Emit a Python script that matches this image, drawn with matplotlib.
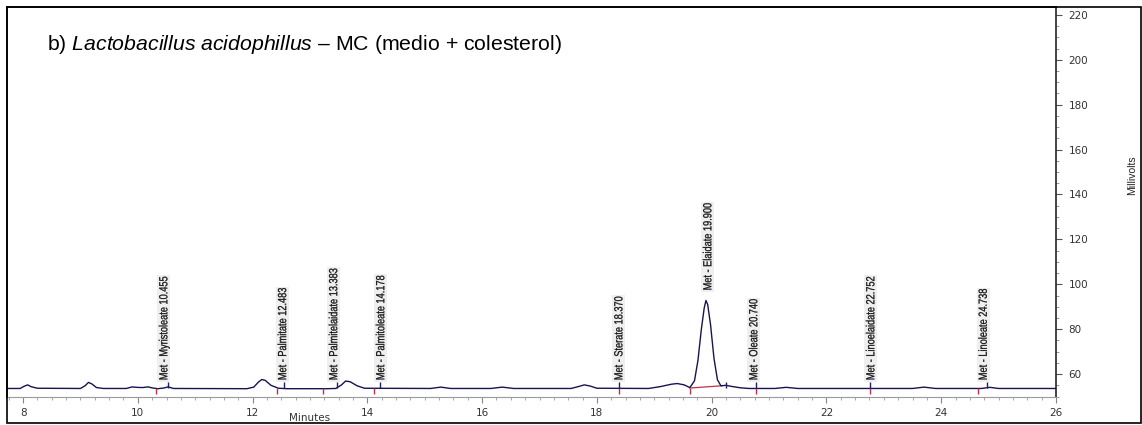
import numpy as np
import matplotlib
matplotlib.use("Agg")
import matplotlib.pyplot as plt
from matplotlib.patches import Rectangle, PathPatch
from matplotlib.ticker import MultipleLocator
from matplotlib.textpath import TextPath
from matplotlib.font_manager import FontProperties
from matplotlib.transforms import Affine2D

plt.rcParams['mathtext.fontset'] = 'custom'
plt.rcParams['mathtext.rm'] = 'Liberation Sans'
plt.rcParams['mathtext.it'] = 'Liberation Sans:italic'

# chromatogram trace (minutes, millivolts)
t = [7.72, 7.95, 8.02, 8.08, 8.14, 8.25, 9.00, 9.08, 9.14, 9.20, 9.28, 9.40,
     9.80, 9.90, 9.98, 10.08, 10.18, 10.26, 10.35, 10.45, 10.53, 10.62,
     11.90, 12.02, 12.10, 12.16, 12.22, 12.32, 12.45, 12.60,
     13.30, 13.45, 13.55, 13.62, 13.70, 13.82, 13.95,
     15.10, 15.28, 15.45, 16.15, 16.35, 16.55,
     17.55, 17.70, 17.78, 17.88, 18.00,
     18.90, 19.10, 19.30, 19.40, 19.52, 19.62, 19.70, 19.76, 19.82, 19.87,
     19.90, 19.93, 19.98, 20.04, 20.10, 20.16, 20.25, 20.35, 20.50, 20.65,
     21.10, 21.30, 21.50, 23.50, 23.70, 23.90, 24.70, 24.85, 25.00, 26.00]
mv = [53.6, 53.6, 54.6, 55.2, 54.4, 53.7, 53.6, 54.8, 56.3, 55.6, 54.0, 53.6,
      53.6, 54.3, 54.1, 54.0, 54.3, 53.8, 53.5, 53.8, 54.3, 53.6,
      53.5, 54.2, 56.4, 57.6, 57.2, 55.0, 53.7, 53.5,
      53.5, 53.6, 55.2, 56.9, 56.6, 54.8, 53.7,
      53.6, 54.2, 53.6, 53.6, 54.2, 53.6,
      53.6, 54.6, 55.2, 54.7, 53.7,
      53.6, 54.4, 55.5, 55.8, 55.2, 54.0, 57.0, 66.0, 80.0, 89.5,
      92.8, 91.0, 82.0, 67.0, 57.5, 54.8, 55.0, 54.5, 53.9, 53.6,
      53.6, 54.1, 53.6, 53.6, 54.2, 53.6, 53.6, 54.1, 53.6, 53.6]

# peak labels
names = ["Met - Myristoleate 10.455", "Met - Palmitate 12.483",
         "Met - Palmitelaidate 13.383", "Met - Palmitoleate 14.178",
         "Met - Sterate 18.370", "Met - Elaidate 19.900",
         "Met - Oleate 20.740", "Met - Linoelaidate 22.752",
         "Met - Linoleate 24.738"]
label_x = [10.44, 12.51, 13.40, 14.22, 18.37, 19.92, 20.72, 22.76, 24.72]
label_y = [57.3, 57.3, 57.3, 57.3, 57.3, 97.3, 57.3, 57.3, 57.3]
rt_mark = [10.53, 12.55, 13.47, 14.22, 18.38, 20.25, 20.77, 22.76, 24.79]
start_mark = [10.31, 12.42, 13.22, 14.12, 18.38, 19.62, 20.77, 22.76, 24.64]

fig = plt.figure(figsize=(11.42, 4.25), dpi=100)
ax = fig.add_axes([7 / 1142, 1 - 397 / 425, (1056 - 7) / 1142, 390 / 425])

ax.plot(t, mv, color='#15154f', lw=1.0, zorder=3)

# peak start (red) and retention time (blue) marks
ax.vlines(start_mark, 51.0, 53.6, color='#c0304a', lw=1.0, zorder=4)
ax.vlines(rt_mark, 53.6, 56.4, color='#1c1c70', lw=1.0, zorder=4)
# integration baseline under the main peak
ax.plot([19.62, 20.18], [53.8, 54.8], color='#c0304a', lw=0.9, zorder=2)

ax.set_xlim(7.72, 26)
ax.set_ylim(49.8, 223.5)

# narrow rotated labels (condensed Liberation Sans glyphs)
fp = FontProperties(family='Liberation Sans')
for name, x, y in zip(names, label_x, label_y):
    tp = TextPath((0, 0), name, size=1, prop=fp)
    length = tp.get_extents().x1 * 9.2
    px, py = ax.transData.transform((x, y))
    tr = Affine2D().translate(0, -0.36).scale(9.2, 11.8).rotate_deg(90).translate(px, py)
    ax.add_artist(Rectangle((px - 6, py - 1.5), 13, length + 3,
                            transform=Affine2D(), facecolor='#efefef',
                            edgecolor='none', zorder=1, clip_on=False))
    ax.add_artist(PathPatch(tp, transform=tr, facecolor='#111111',
                            edgecolor='#111111', lw=0.2, zorder=5, clip_on=False))

ax.xaxis.set_major_locator(MultipleLocator(2))
ax.xaxis.set_minor_locator(MultipleLocator(0.25))
ax.yaxis.set_minor_locator(MultipleLocator(5))
ax.set_yticks(np.arange(60, 221, 20))
ax.yaxis.tick_right()
ax.tick_params(axis='x', which='major', direction='out', length=4, width=0.8,
               color='#888888', labelsize=7.5, labelcolor='#333333', pad=4)
ax.tick_params(axis='x', which='minor', direction='out', length=2, width=0.6,
               color='#999999')
ax.tick_params(axis='y', which='major', direction='out', length=4, width=0.8,
               color='#555555', labelsize=7.5, labelcolor='#333333', pad=5)
ax.tick_params(axis='y', which='minor', direction='out', length=2, width=0.6,
               color='#888888')
ax.tick_params(axis='y', which='both', left=False, labelleft=False)

ax.spines['bottom'].set_color('#9a9a9a')
ax.spines['right'].set_color('#111111')
ax.spines['right'].set_linewidth(1.1)
ax.spines['left'].set_linewidth(1.2)
ax.spines['top'].set_linewidth(1.2)

fig.text(310 / 1142, 1 - 418 / 425, "Minutes", fontsize=7.5, color='#333333',
         ha='center', va='center')
fig.text(1132 / 1142, 1 - 175 / 425, "Millivolts", rotation=90, fontsize=7.5,
         family='Liberation Sans', color='#222222', ha='center', va='center')

fig.text(47 / 1142, 1 - 45 / 425,
         "b) $\\it{Lactobacillus\\ acidophillus}$ \u2013 MC (medio + colesterol)",
         fontsize=15.3, family='Liberation Sans', ha='left', va='center')

# outer frame
fig.patches.append(Rectangle((7 / 1142, 2 / 425), (1141 - 7) / 1142, 416 / 425,
                             transform=fig.transFigure, fill=False,
                             edgecolor='black', lw=1.2))

fig.savefig('out.png', dpi=100)
